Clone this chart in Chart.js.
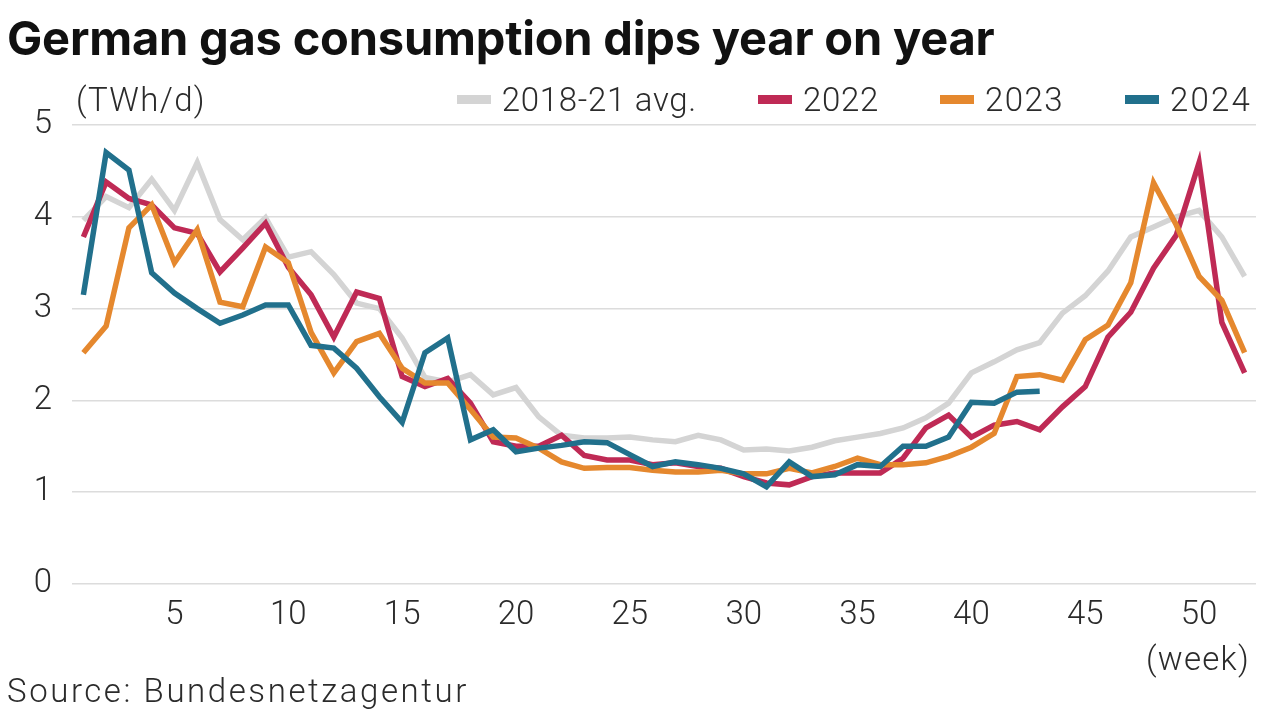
<!DOCTYPE html>
<html><head><meta charset="utf-8">
<script src="https://cdn.jsdelivr.net/npm/chart.js@4.4.1/dist/chart.umd.min.js"></script>
<style>
html,body{margin:0;padding:0;background:#fff;}
#wrap{position:relative;width:1280px;height:713px;overflow:hidden;font-family:Roboto,sans-serif;color:#2b2b2b;}
#c{position:absolute;left:0;top:0;}
.t{position:absolute;white-space:nowrap;line-height:1;}
#title{left:7px;top:14px;font-family:Inter,sans-serif;font-weight:700;font-size:38px;color:#111;letter-spacing:-0.2px;}
#unit{left:76px;top:83px;font-size:33px;font-weight:300;}
#legend{position:absolute;right:28px;top:83px;display:flex;gap:61px;font-size:33px;font-weight:300;line-height:1;}
.li{display:flex;align-items:center;white-space:nowrap;}
.sw{width:34px;height:9px;margin-right:11px;}
#week{left:1146px;top:642px;font-size:33px;font-weight:300;}
#source{left:7px;top:674px;font-size:33px;font-weight:300;}
</style></head>
<body><div id="wrap">
<canvas id="c" width="1280" height="713"></canvas>
<div class="t" id="title">German gas consumption dips year on year</div>
<div class="t fit" id="unit" data-w="130">(TWh/d)</div>
<div id="legend"></div>
<div class="t fit" id="week" data-w="104">(week)</div>
<div class="t fit" id="source" data-w="462">Source: Bundesnetzagentur</div>
</div>
<script>
const weeks = [1,2,3,4,5,6,7,8,9,10,11,12,13,14,15,16,17,18,19,20,21,22,23,24,25,26,
  27,28,29,30,31,32,33,34,35,36,37,38,39,40,41,42,43,44,45,46,47,48,49,50,51,52];
const xTicks = [5,10,15,20,25,30,35,40,45,50];
const yTicks = [0,1,2,3,4,5];
const seriesNames = ["2018-21 avg.","2022","2023","2024"];
const seriesColors = ["#d4d4d4","#bf2a55","#e5882e","#21708c"];

const avg1821 = [3.96,4.22,4.1,4.41,4.07,4.59,3.97,3.75,3.99,3.56,3.62,3.37,3.06,3.0,2.68,2.25,2.2,2.28,2.06,2.14,
  1.82,1.62,1.59,1.59,1.6,1.57,1.55,1.62,1.57,1.46,1.47,1.45,1.49,1.56,1.6,1.64,1.7,1.81,1.97,2.3,
  2.42,2.55,2.63,2.95,3.14,3.41,3.78,3.89,4.0,4.07,3.78,3.35];
const y2022 = [3.78,4.38,4.2,4.13,3.88,3.82,3.4,3.66,3.93,3.45,3.15,2.69,3.18,3.11,2.26,2.15,2.24,1.97,1.55,1.5,
  1.5,1.62,1.4,1.35,1.35,1.3,1.32,1.28,1.26,1.17,1.1,1.08,1.17,1.21,1.21,1.21,1.37,1.7,1.84,1.6,
  1.73,1.77,1.68,1.93,2.15,2.69,2.96,3.44,3.8,4.59,2.85,2.3];
const y2023 = [2.52,2.81,3.88,4.13,3.5,3.86,3.07,3.02,3.67,3.5,2.74,2.3,2.64,2.73,2.35,2.19,2.19,1.9,1.6,1.59,
  1.48,1.33,1.26,1.27,1.27,1.24,1.22,1.22,1.24,1.2,1.2,1.26,1.21,1.28,1.37,1.3,1.3,1.32,1.39,1.49,
  1.64,2.26,2.28,2.22,2.66,2.82,3.28,4.37,3.91,3.35,3.09,2.52];
const y2024 = [3.15,4.7,4.51,3.39,3.17,3.0,2.84,2.93,3.04,3.04,2.6,2.57,2.35,2.04,1.76,2.52,2.68,1.57,1.68,1.44,
  1.48,1.51,1.55,1.54,1.41,1.28,1.33,1.3,1.26,1.2,1.06,1.33,1.17,1.19,1.3,1.28,1.5,1.5,1.6,1.98,
  1.97,2.09,2.1];

const allSeries = [avg1821, y2022, y2023, y2024];
const drawOrder = [3,2,1,0];
const legendTextWidths = [195,76,79,82];

// legend
const leg = document.getElementById('legend');
seriesNames.forEach((n,i)=>{
  const d=document.createElement('div');d.className='li';
  const s=document.createElement('span');s.className='sw';s.style.background=seriesColors[i];
  const t=document.createElement('span');t.textContent=n;t.className='fit';t.dataset.w=legendTextWidths[i];
  t.style.whiteSpace='nowrap';
  d.appendChild(s);d.appendChild(t);leg.appendChild(d);
});
// adjust letter spacing of text to match reference widths
document.querySelectorAll('.fit').forEach(el=>{
  const target=+el.dataset.w;
  const w=el.getBoundingClientRect().width;
  const n=el.textContent.length;
  el.style.letterSpacing=((target-w)/n).toFixed(2)+'px';
});

const tickFont = {family:'Roboto', size:33, weight:300};
new Chart(document.getElementById('c'), {
  type:'line',
  data:{
    datasets: allSeries.map((vals,i)=>({
      label: seriesNames[i],
      data: vals.map((v,j)=>({x:weeks[j], y:v})),
      borderColor: seriesColors[i],
      backgroundColor: seriesColors[i],
      borderWidth: 5.5,
      pointRadius: 0,
      pointHoverRadius: 0,
      tension: 0,
      fill: false,
      order: drawOrder[i]
    }))
  },
  options:{
    responsive:false,
    animation:false,
    devicePixelRatio:1,
    layout:{padding:{top:125,right:24,left:0,bottom:0}},
    plugins:{legend:{display:false},tooltip:{enabled:false}},
    events:[],
    scales:{
      x:{
        type:'linear', min:0.5, max:52.5,
        afterBuildTicks:(s)=>{ s.ticks = xTicks.map(v=>({value:v})); },
        afterFit:(s)=>{ s.height = 129; },
        grid:{display:false, drawTicks:false},
        border:{display:false},
        ticks:{font:tickFont, color:'#2b2b2b', padding:12, maxRotation:0, autoSkip:false}
      },
      y:{
        min:0, max:5,
        afterBuildTicks:(s)=>{ s.ticks = yTicks.map(v=>({value:v})); },
        afterFit:(s)=>{ s.width = 72; },
        grid:{color:'#dcdcdc', lineWidth:1.5, drawTicks:false},
        border:{display:false},
        ticks:{font:tickFont, color:'#2b2b2b', padding:20}
      }
    }
  }
});

// fit title width to reference (~985px)
const tt=document.getElementById('title');
const w=tt.getBoundingClientRect().width;
tt.style.fontSize=(38*986/w).toFixed(2)+'px';
</script>
</body></html>
